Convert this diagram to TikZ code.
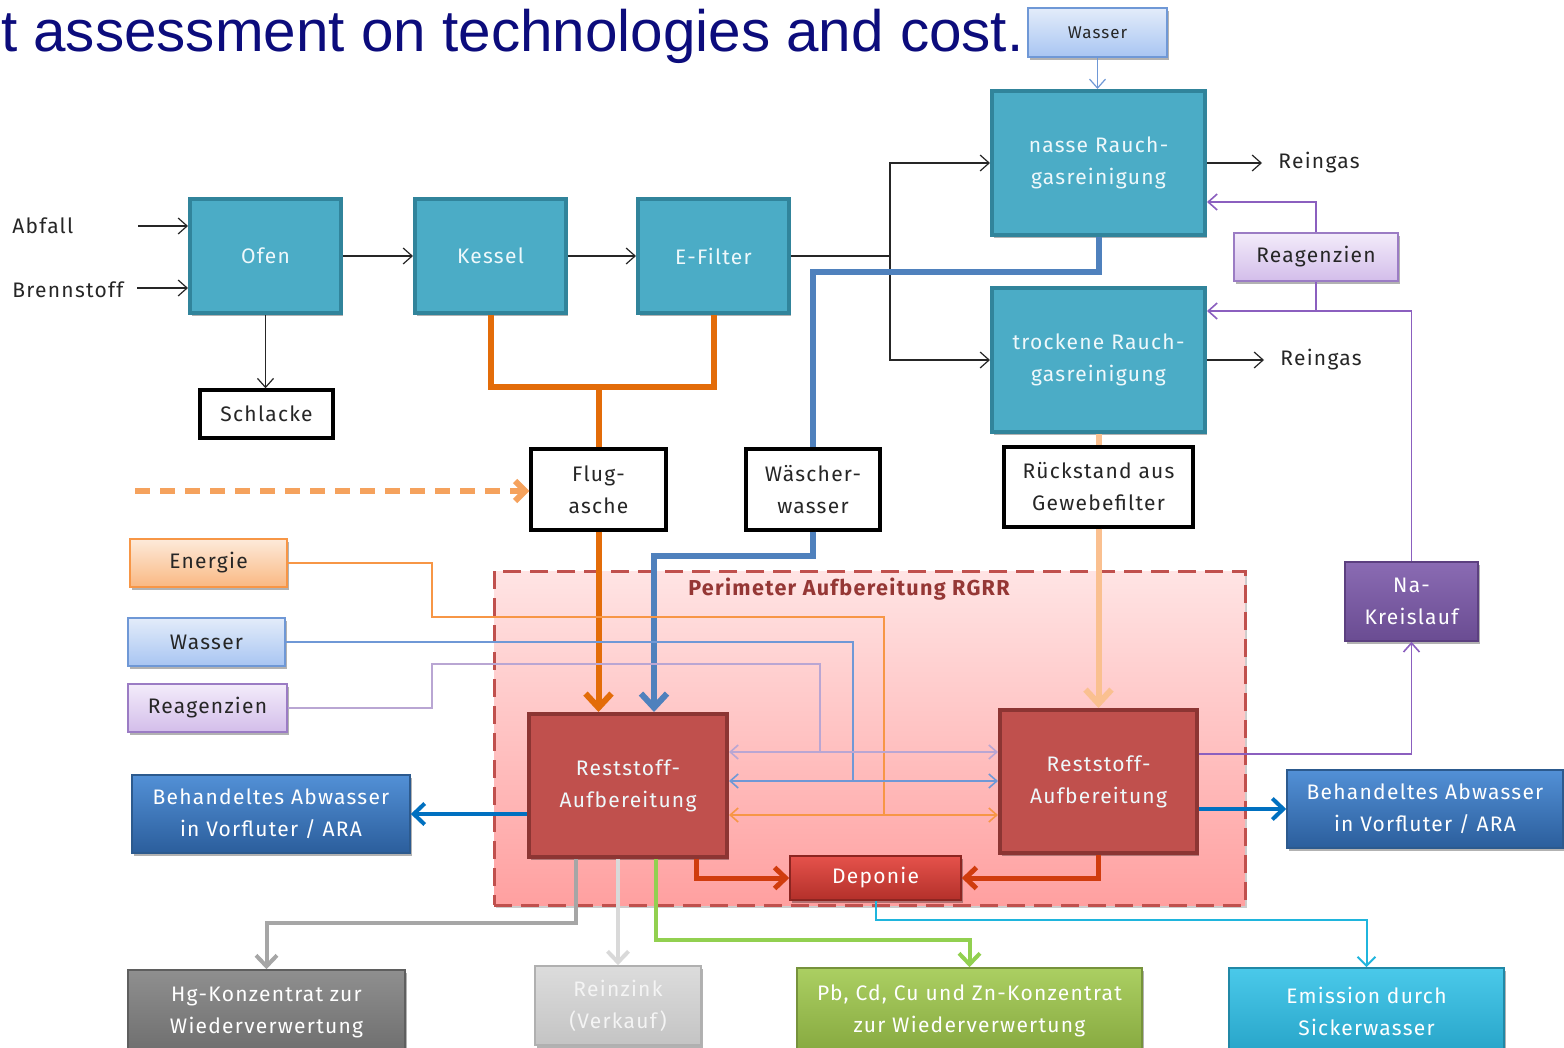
\documentclass[tikz,border=0pt]{standalone}
\usepackage{fontspec}
\setmainfont{Liberation Sans}
\newfontfamily\lblfont[LetterSpace=6]{Fira Sans}
\usetikzlibrary{arrows.meta,shadows,calc}

\definecolor{cNavy}{HTML}{0C0C7C}
\definecolor{cTeal}{HTML}{4BACC6}
\definecolor{cTealD}{HTML}{31849B}
\definecolor{cTealT}{HTML}{EEF8FB}
\definecolor{cRed}{HTML}{C0504D}
\definecolor{cRedD}{HTML}{8C3533}
\definecolor{cTxt}{HTML}{262626}
\definecolor{cOrange}{HTML}{E36C09}
\definecolor{cOrangeL}{HTML}{F79646}
\definecolor{cDash}{HTML}{F5A25D}
\definecolor{cPeach}{HTML}{FAC090}
\definecolor{cBlue}{HTML}{4F81BD}
\definecolor{cBlueThin}{HTML}{6F98D6}
\definecolor{cBlueA}{HTML}{0070C0}
\definecolor{cPurp}{HTML}{8B5FBF}
\definecolor{cPurpL}{HTML}{B9A6D3}
\definecolor{cRedArr}{HTML}{D03C0E}
\definecolor{cGrey}{HTML}{A6A6A6}
\definecolor{cGreyL}{HTML}{D9D9D9}
\definecolor{cGreen}{HTML}{92D050}
\definecolor{cCyan}{HTML}{1FB5DD}
\definecolor{cPerim}{HTML}{C0504D}
\definecolor{cPerimT}{HTML}{953735}
\definecolor{EngT}{HTML}{FDEADA}\definecolor{EngB}{HTML}{F9B882}
\definecolor{WasT}{HTML}{E3ECFA}\definecolor{WasB}{HTML}{A8C5F2}
\definecolor{ReaT}{HTML}{F3ECFA}\definecolor{ReaB}{HTML}{D3BDEA}\definecolor{ReaD}{HTML}{9B7CC4}
\definecolor{NaT}{HTML}{8A6BB3}\definecolor{NaB}{HTML}{6A4C92}\definecolor{NaD}{HTML}{5C4080}
\definecolor{AbwT}{HTML}{5290D6}\definecolor{AbwB}{HTML}{2B5E9C}\definecolor{AbwD}{HTML}{2C5A8E}
\definecolor{DepT}{HTML}{E5524B}\definecolor{DepB}{HTML}{B3302A}\definecolor{DepD}{HTML}{8C2521}
\definecolor{HgT}{HTML}{8F8F8F}\definecolor{HgB}{HTML}{6E6E6E}\definecolor{HgD}{HTML}{5F5F5F}
\definecolor{ZkT}{HTML}{DCDCDC}\definecolor{ZkB}{HTML}{C4C4C4}\definecolor{ZkD}{HTML}{B0B0B0}\definecolor{ZkTx}{HTML}{F4F4F4}
\definecolor{PbT}{HTML}{ABCF62}\definecolor{PbB}{HTML}{86A83F}\definecolor{PbD}{HTML}{76923C}
\definecolor{EmT}{HTML}{4AC9EA}\definecolor{EmB}{HTML}{27A4C8}\definecolor{EmD}{HTML}{2188A6}
\definecolor{PeT}{HTML}{FFE4E4}\definecolor{PeB}{HTML}{FFA0A0}

% box from corner coordinates: name, x1, y1, x2, y2, style, text
\newcommand\mkbox[7]{\node[#6, minimum width={(#4-#2)*0.5pt}, minimum height={(#5-#3)*0.5pt}] (#1) at ({(#2+#4)/2},{(#3+#5)/2}) {#7};}

\begin{document}
\begin{tikzpicture}[x=0.5pt,y=-0.5pt,
  base/.style={inner sep=0pt, align=center, font=\lblfont\fontsize{10.5}{16}\selectfont},
  shad/.style={drop shadow={shadow xshift=1pt, shadow yshift=-1.5pt, opacity=0.3, fill=black}},
  tealbox/.style={base, shad, draw=cTealD, line width=2pt, fill=cTeal, text=cTealT},
  redbox/.style={base, shad, draw=cRedD, line width=2pt, fill=cRed, text=cTealT},
  wbox/.style={base, draw=black, line width=1.7pt, fill=white, text=cTxt},
  engbox/.style={base, shad, draw=cOrangeL, line width=0.8pt, top color=EngT, bottom color=EngB, text=cTxt},
  wasbox/.style={base, shad, draw=cBlueThin, line width=0.8pt, top color=WasT, bottom color=WasB, text=cTxt},
  reabox/.style={base, shad, draw=ReaD, line width=0.8pt, top color=ReaT, bottom color=ReaB, text=cTxt},
  nabox/.style={base, shad, draw=NaD, line width=0.8pt, top color=NaT, bottom color=NaB, text=white},
  abwbox/.style={base, shad, draw=AbwD, line width=0.8pt, top color=AbwT, bottom color=AbwB, text=white},
  depbox/.style={base, shad, draw=DepD, line width=0.8pt, top color=DepT, bottom color=DepB, text=white},
  hgbox/.style={base, shad, draw=HgD, line width=0.8pt, top color=HgT, bottom color=HgB, text=white},
  zinkbox/.style={base, shad, draw=ZkD, line width=0.8pt, top color=ZkT, bottom color=ZkB, text=ZkTx},
  pbbox/.style={base, shad, draw=PbD, line width=0.8pt, top color=PbT, bottom color=PbB, text=white},
  embox/.style={base, shad, draw=EmD, line width=0.8pt, top color=EmT, bottom color=EmB, text=white},
  perimbox/.style={inner sep=0pt, draw=cPerim, line width=1.5pt, dash pattern=on 9pt off 4.5pt, top color=PeT, bottom color=PeB, drop shadow={shadow xshift=1pt, shadow yshift=-1.5pt, opacity=0.2, fill=black}},
  lbl/.style={inner sep=0pt, font=\lblfont\fontsize{10.5}{16}\selectfont, text=cTxt},
  thin/.style={draw=black!85, line width=0.6pt},
  harr/.style={-{Straight Barb[length=4.5pt,width=8pt]}},
  darr/.style={{Straight Barb[length=4pt,width=7pt]}-{Straight Barb[length=4pt,width=7pt]}},
  bigarr/.style={-{Straight Barb[length=7pt,width=13pt]}},
  midarr/.style={-{Straight Barb[length=5.5pt,width=10.5pt]}},
]
\useasboundingbox (0,0) rectangle (1564,1048);
\fill[white] (0,0) rectangle (1564,1048);

% heading line
\node[inner sep=0pt, anchor=base east, font=\fontsize{29.2}{34}\selectfont, text=cNavy] (title) at (1024,52) {t assessment on technologies and cost.};

% treatment perimeter
\mkbox{perim}{494}{571}{1245}{905}{perimbox}{}
\node[inner sep=0pt, font=\lblfont\bfseries\fontsize{10.8}{12}\selectfont, text=cPerimT] (perimlbl) at (849,589) {Perimeter Aufbereitung RGRR};

% incineration line
\mkbox{wtop}{1028}{8}{1167}{57}{wasbox, font=\lblfont\fontsize{8.5}{10}\selectfont}{Wasser}
\mkbox{nasse}{992}{91}{1205}{235}{tealbox}{nasse Rauch-\\gasreinigung}
\mkbox{trocken}{992}{288}{1205}{432}{tealbox}{trockene Rauch-\\gasreinigung}
\mkbox{ofen}{190}{199}{341}{313}{tealbox}{Ofen}
\mkbox{kessel}{415}{199}{566}{313}{tealbox}{Kessel}
\mkbox{efilter}{638}{199}{789}{313}{tealbox}{E-Filter}
\mkbox{reagR}{1234}{233}{1398}{281}{reabox}{Reagenzien}

% residues
\mkbox{schlacke}{200}{390}{333}{438}{wbox}{Schlacke}
\mkbox{flug}{531}{449}{666}{530}{wbox}{Flug-\\asche}
\mkbox{wasch}{746}{449}{880}{530}{wbox}{Wäscher-\\wasser}
\mkbox{rueck}{1004}{447}{1193}{527}{wbox}{Rückstand aus\\Gewebefilter}
\mkbox{na}{1345}{562}{1478}{641}{nabox}{Na-\\Kreislauf}

% inputs
\mkbox{energie}{130}{539}{287}{587}{engbox}{Energie}
\mkbox{wasL}{128}{618}{285}{666}{wasbox}{Wasser}
\mkbox{reaL}{128}{684}{287}{732}{reabox}{Reagenzien}

% processing and outputs
\mkbox{abwL}{132}{775}{410}{853}{abwbox}{Behandeltes Abwasser\\in Vorfluter / ARA}
\mkbox{abwR}{1287}{770}{1563}{848}{abwbox}{Behandeltes Abwasser\\in Vorfluter / ARA}
\mkbox{rs1}{529}{714}{727}{857}{redbox}{Reststoff-\\Aufbereitung}
\mkbox{rs2}{1000}{710}{1197}{853}{redbox}{Reststoff-\\Aufbereitung}
\mkbox{dep}{790}{856}{961}{900}{depbox}{Deponie}
\mkbox{hg}{128}{970}{405}{1054}{hgbox}{Hg-Konzentrat zur\\Wiederverwertung}
\mkbox{zink}{535}{966}{701}{1045}{zinkbox}{Reinzink\\(Verkauf)}
\mkbox{pb}{797}{968}{1142}{1054}{pbbox}{Pb, Cd, Cu und Zn-Konzentrat\\zur Wiederverwertung}
\mkbox{em}{1229}{968}{1504}{1054}{embox}{Emission durch\\Sickerwasser}

% free labels
\node[lbl, anchor=west] (tAbfall) at (12,226) {Abfall};
\node[lbl, anchor=west] (tBrenn) at (12,290) {Brennstoff};
\node[lbl, anchor=west] (tRein1) at (1278,163) {Reingas};
\node[lbl, anchor=west] (tRein2) at (1280,360) {Reingas};
\coordinate (inAbf) at (138,226);
\coordinate (inBr) at (137,288);
\coordinate (dstart) at (135,491);
\coordinate (split) at (890,0 |- efilter.east);

% gas path
\draw[thin, harr] (inAbf) -- (ofen.west |- inAbf);
\draw[thin, harr] (inBr) -- (ofen.west |- inBr);
\draw[thin, harr] (ofen.east) -- (kessel.west);
\draw[thin, harr] (kessel.east) -- (efilter.west);
\draw[thin] (efilter.east) -- (split);
\draw[thin, harr] (split) |- (nasse.west);
\draw[thin, harr] (split) |- (trocken.west);
\draw[thin, harr] (nasse.east) -- ([xshift=-8pt]tRein1.west);
\draw[thin, harr] (trocken.east) -- ([xshift=-8pt]tRein2.west);
\draw[thin, harr] (ofen.south) -- (ofen.south |- schlacke.north);
\draw[draw=cBlueThin, line width=0.6pt, harr] (wtop.south) -- (wtop.south |- nasse.north);

% reagents and sodium loop
\draw[draw=cPurp, line width=0.8pt, harr] (reagR.north) |- (nasse.east |- 0,202);
\draw[draw=cPurp, line width=0.8pt] (reagR.south) -- (reagR.south |- 0,311);
\draw[draw=cPurp, line width=0.8pt, harr] (na.north) |- (trocken.east |- 0,311);
\draw[draw=cPurp, line width=0.8pt, harr] (rs2.east |- 0,754) -| (na.south);

% fly ash
\draw[draw=cOrange, line width=3pt] (kessel.south) |- (flug.north |- 0,387) -| (efilter.south);
\draw[draw=cOrange, line width=3pt] (flug.north) -- (flug.north |- 0,387);
\draw[draw=cOrange, line width=3pt, bigarr] (flug.south) -- (flug.south |- rs1.north);
\draw[draw=cDash, line width=3pt, dash pattern=on 7.5pt off 5pt, -{Straight Barb[length=5pt,width=10pt]}] (dstart) -- (flug.west |- dstart);

% scrubber water
\draw[draw=cBlue, line width=3pt] (nasse.south) |- (wasch.north |- 0,272) -- (wasch.north);
\draw[draw=cBlue, line width=3pt, bigarr] (wasch.south) |- (654,556) -- (654,0 |- rs1.north);

% fabric filter residue
\draw[draw=cPeach, line width=3pt] (trocken.south) -- (rueck.north);
\draw[draw=cPeach, line width=3pt, bigarr] (rueck.south) -- (rueck.south |- rs2.north);

% supplies to both treatment units
\draw[draw=cOrangeL, line width=0.8pt] (energie.east) -| (432,617) -| (884,815);
\draw[draw=cOrangeL, line width=0.8pt, darr] (rs1.east |- 0,815) -- (rs2.west |- 0,815);
\draw[draw=cBlueThin, line width=0.8pt] (wasL.east) -| (853,781);
\draw[draw=cBlueThin, line width=0.8pt, darr] (rs1.east |- 0,781) -- (rs2.west |- 0,781);
\draw[draw=cPurpL, line width=0.8pt] (reaL.east) -| (432,664) -| (820,752);
\draw[draw=cPurpL, line width=0.8pt, darr] (rs1.east |- 0,752) -- (rs2.west |- 0,752);

% treated waste water
\draw[draw=cBlueA, line width=2pt, midarr] (rs1.west |- abwL.east) -- (abwL.east);
\draw[draw=cBlueA, line width=2pt, midarr] (rs2.east |- abwR.west) -- (abwR.west);

% landfill
\draw[draw=cRedArr, line width=2.5pt, midarr] (rs1.south -| 696,0) |- (dep.west);
\draw[draw=cRedArr, line width=2.5pt, midarr] (rs2.south) |- (dep.east);

% products and emissions
\draw[draw=cGrey, line width=2pt, midarr] (rs1.south -| 576,0) |- (hg.north |- 0,923) -- (hg.north);
\draw[draw=cGreyL, line width=2pt, midarr] (rs1.south -| zink.north) -- (zink.north);
\draw[draw=cGreen, line width=2pt, midarr] (rs1.south -| 656,0) |- (pb.north |- 0,940) -- (pb.north);
\draw[draw=cCyan, line width=1pt, -{Straight Barb[length=4.5pt,width=9pt]}] (dep.south) |- (em.north |- 0,920) -- (em.north);
\end{tikzpicture}
\end{document}
